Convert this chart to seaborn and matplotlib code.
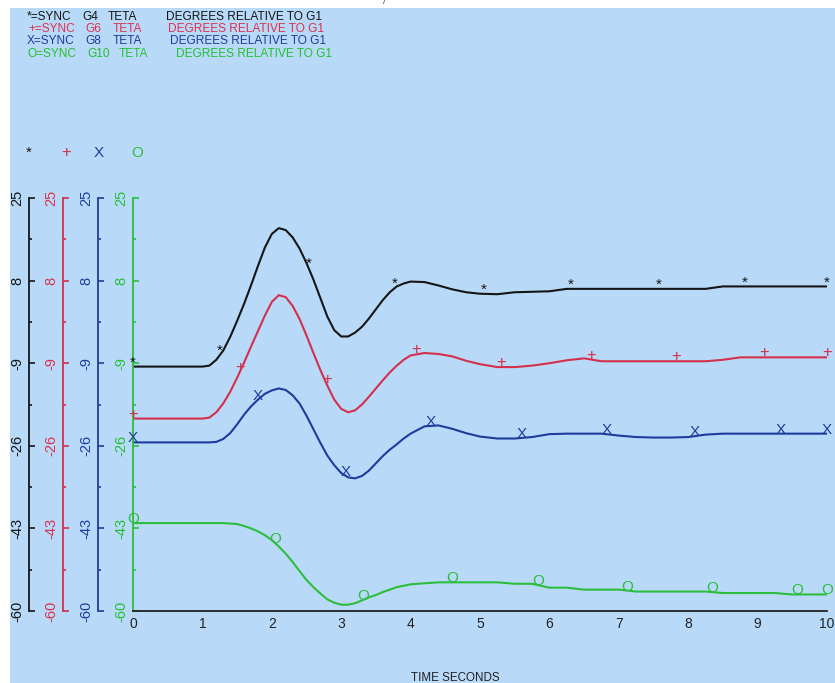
import numpy as np
import matplotlib
matplotlib.use("Agg")
import matplotlib.pyplot as plt
from matplotlib.patches import Rectangle
import seaborn as sns

# ---------------- data ----------------
time_s = [0, 0.5, 1.0, 1.1, 1.2, 1.3, 1.4, 1.5, 1.6, 1.7, 1.8, 1.9, 2.0, 2.1, 2.2,
          2.3, 2.4, 2.5, 2.6, 2.7, 2.8, 2.9, 3.0, 3.1, 3.2, 3.3, 3.4, 3.5, 3.6, 3.7,
          3.8, 3.9, 4.0, 4.2, 4.4, 4.6, 4.8, 5.0, 5.25, 5.5, 5.75, 6.0, 6.25, 6.5,
          6.75, 7.0, 7.25, 7.5, 7.75, 8.0, 8.25, 8.5, 8.75, 9.0, 9.25, 9.5, 9.75, 10.0]

g4_teta = [-9.7, -9.7, -9.7, -9.5, -8.3, -6.4, -3.6, -0.3, 3.2, 7.0, 11.0, 14.8, 17.6,
           18.8, 18.4, 16.9, 14.6, 11.6, 8.2, 4.4, 0.6, -2.2, -3.5, -3.5, -2.7, -1.5,
           0.2, 2.1, 4.0, 5.6, 6.8, 7.4, 7.8, 7.7, 7.0, 6.2, 5.6, 5.3, 5.2, 5.6, 5.7,
           5.8, 6.3, 6.3, 6.3, 6.3, 6.3, 6.3, 6.3, 6.3, 6.3, 6.8, 6.8, 6.8, 6.8, 6.8,
           6.8, 6.8]

g6_teta = [-20.4, -20.4, -20.4, -20.2, -19.1, -17.3, -14.9, -12.0, -8.9, -5.6, -2.4,
           0.8, 3.6, 5.0, 4.6, 2.8, 0.1, -3.3, -6.9, -10.4, -13.6, -16.5, -18.4, -19.1,
           -18.7, -17.5, -15.9, -14.2, -12.5, -10.9, -9.5, -8.3, -7.4, -6.9, -7.1, -7.6,
           -8.5, -9.2, -9.8, -9.8, -9.5, -9.0, -8.4, -8.0, -8.6, -8.6, -8.6, -8.6, -8.6,
           -8.6, -8.6, -8.3, -7.8, -7.8, -7.8, -7.8, -7.8, -7.8]

g8_teta = [-25.3, -25.3, -25.3, -25.3, -25.2, -24.6, -23.4, -21.6, -19.6, -17.9, -16.5,
           -15.3, -14.6, -14.2, -14.5, -15.6, -17.3, -19.8, -22.6, -25.4, -28.0, -30.0,
           -31.6, -32.5, -32.7, -32.2, -31.1, -29.6, -28.1, -26.8, -25.7, -24.5, -23.5,
           -22.0, -21.8, -22.5, -23.4, -24.1, -24.5, -24.5, -24.2, -23.6, -23.5, -23.5,
           -23.5, -23.9, -24.2, -24.3, -24.3, -24.2, -23.7, -23.5, -23.5, -23.5, -23.5,
           -23.5, -23.5, -23.5]

g10_teta = [-41.9, -41.9, -41.9, -41.9, -41.9, -41.9, -42.0, -42.1, -42.5, -43.0, -43.6,
            -44.4, -45.4, -46.7, -48.2, -49.9, -51.8, -53.6, -55.1, -56.4, -57.6, -58.3,
            -58.7, -58.7, -58.4, -57.8, -57.2, -56.7, -56.1, -55.6, -55.1, -54.8, -54.5,
            -54.3, -54.1, -54.1, -54.1, -54.1, -54.1, -54.4, -54.4, -55.2, -55.2, -55.6,
            -55.6, -55.6, -56.0, -56.0, -56.0, -56.0, -56.0, -56.3, -56.3, -56.3, -56.3,
            -56.6, -56.6, -56.6]

# times at which the plot symbols are printed on each curve
g4_mark_t = [0.0, 1.25, 2.53, 3.77, 5.05, 6.3, 7.57, 8.82, 10.0]
g6_mark_t = [0.0, 1.54, 2.79, 4.08, 5.31, 6.6, 7.82, 9.09, 10.0]
g8_mark_t = [0.0, 1.8, 3.06, 4.29, 5.6, 6.82, 8.09, 9.34, 10.0]
g10_mark_t = [0.0, 2.05, 3.31, 4.6, 5.84, 7.12, 8.34, 9.57, 10.0]

series_symbols = ["*", "+", "X", "O"]
series_units = ["G4", "G6", "G8", "G10"]
legend_prefix = ["*=SYNC", "+=SYNC", "X=SYNC", "O=SYNC"]
legend_qty = "TETA"
legend_desc = "DEGREES RELATIVE TO G1"

y_ticks = [25, 8, -9, -26, -43, -60]
y_tick_labels = ["25", "8", "-9", "-26", "-43", "-60"]
y_minor = [16.5, -0.5, -17.5, -34.5, -51.5]
x_ticks = list(range(0, 11))
x_tick_labels = [str(v) for v in x_ticks]
x_minor = [0.5, 1.5, 2.5, 3.5, 4.5, 5.5, 6.5, 7.5, 8.5, 9.5]
x_label = "TIME SECONDS"

# ---------------- style ----------------
W, H, DPI = 835, 683, 100
BG = "#B8DAF8"
COLORS = ["#151515", "#D4304C", "#1F3C9C", "#2DBD3C"]
TEXT_COLORS = ["#151515", "#E0304C", "#1F3C9C", "#22C032"]
SYM_SIZE = {"*": 11, "+": 12, "X": 11, "O": 11}

sns.set_theme(style="white")
plt.rcParams["font.family"] = ["Liberation Sans", "DejaVu Sans"]
plt.rcParams["axes.unicode_minus"] = False


def fx(px):
    return px / W


def fy(py):
    return 1 - py / H


fig = plt.figure(figsize=(W / DPI, H / DPI), dpi=DPI, facecolor="white")
fig.patches.append(Rectangle((fx(10), 0), 1 - fx(10), fy(8), transform=fig.transFigure,
                             facecolor=BG, edgecolor="none", zorder=-10))

X0, X1 = 133, 827
YT, YB = 198, 611
rect = [fx(X0), fy(YB), (X1 - X0) / W, (YB - YT) / H]

ax = fig.add_axes(rect)
ax.set_facecolor("none")

data_sets = [g4_teta, g6_teta, g8_teta, g10_teta]
mark_sets = [g4_mark_t, g6_mark_t, g8_mark_t, g10_mark_t]

for vals, col in zip(data_sets, COLORS):
    sns.lineplot(x=time_s, y=vals, ax=ax, color=col, linewidth=1.5, legend=False)

for vals, marks, sym, col in zip(data_sets, mark_sets, series_symbols, COLORS):
    ys = np.interp(marks, time_s, vals)
    for t, yv in zip(marks, ys):
        ax.text(t, yv, sym, color=col, ha="center", va="baseline",
                fontsize=SYM_SIZE[sym], clip_on=False, zorder=5)

ax.set_xlim(0, 10)
ax.set_ylim(-60, 25)
ax.set_xlabel("")
ax.set_ylabel("")
for s in ["top", "right"]:
    ax.spines[s].set_visible(False)
ax.spines["left"].set_color(COLORS[3])
ax.spines["left"].set_linewidth(1.3)
ax.spines["bottom"].set_color("#222222")
ax.spines["bottom"].set_linewidth(1.3)

ax.set_xticks(x_ticks)
ax.set_xticklabels(x_tick_labels)
ax.set_xticks(x_minor, minor=True)
ax.tick_params(axis="x", which="major", direction="in", length=5, width=1.2,
               color="#222222", labelcolor="#222222", labelsize=10, pad=4)
ax.tick_params(axis="x", which="minor", direction="in", length=3, width=1.2,
               color="#222222")


def style_y(a, col, lcol):
    a.set_yticks(y_ticks)
    a.set_yticklabels(y_tick_labels)
    a.set_yticks(y_minor, minor=True)
    a.tick_params(axis="y", which="major", direction="in", length=4.5, width=1.2,
                  color=col, labelcolor=lcol, labelsize=10.5, pad=3.5,
                  labelrotation=90, left=True, right=False)
    a.tick_params(axis="y", which="minor", direction="in", length=2.5, width=1.2,
                  color=col, left=True, right=False)
    for lbl in a.get_yticklabels():
        lbl.set_va("center")


style_y(ax, COLORS[3], TEXT_COLORS[3])

# extra y axes for the other three machines
spine_px = [29, 63, 98]
for i, px in enumerate(spine_px):
    a = fig.add_axes(rect, label=f"axis{i}")
    a.set_facecolor("none")
    a.set_ylim(-60, 25)
    a.set_xlim(0, 10)
    a.set_xticks([])
    for s in ["top", "right", "bottom"]:
        a.spines[s].set_visible(False)
    a.spines["left"].set_position(("axes", (px - X0) / (X1 - X0)))
    a.spines["left"].set_color(COLORS[i])
    a.spines["left"].set_linewidth(1.3)
    style_y(a, COLORS[i], TEXT_COLORS[i])

# symbols above the axes
sym_px = [29, 66, 99, 137]
for sym, px, col in zip(series_symbols, sym_px, COLORS):
    fig.text(fx(px), fy(153), sym, color=col, ha="center", va="center",
             fontsize=SYM_SIZE[sym])

# header text
line_y = [16.5, 29, 41.5, 54]
col_px = [[27, 82, 108, 166], [28, 85, 113, 168], [27, 85, 113, 170], [28, 87, 119, 176]]
for i in range(4):
    parts = [legend_prefix[i], series_units[i], legend_qty, legend_desc]
    for txt, px in zip(parts, col_px[i]):
        fig.text(fx(px), fy(line_y[i]), txt, color=TEXT_COLORS[i], ha="left",
                 va="center", fontsize=8.6)

fig.text(fx(455), fy(678), x_label, color="#222222", ha="center", va="center",
         fontsize=8.4)
fig.text(fx(384), fy(3), "/", color="#333333", ha="center", va="center", fontsize=6)

fig.savefig("out.png", dpi=DPI, facecolor=fig.get_facecolor())
